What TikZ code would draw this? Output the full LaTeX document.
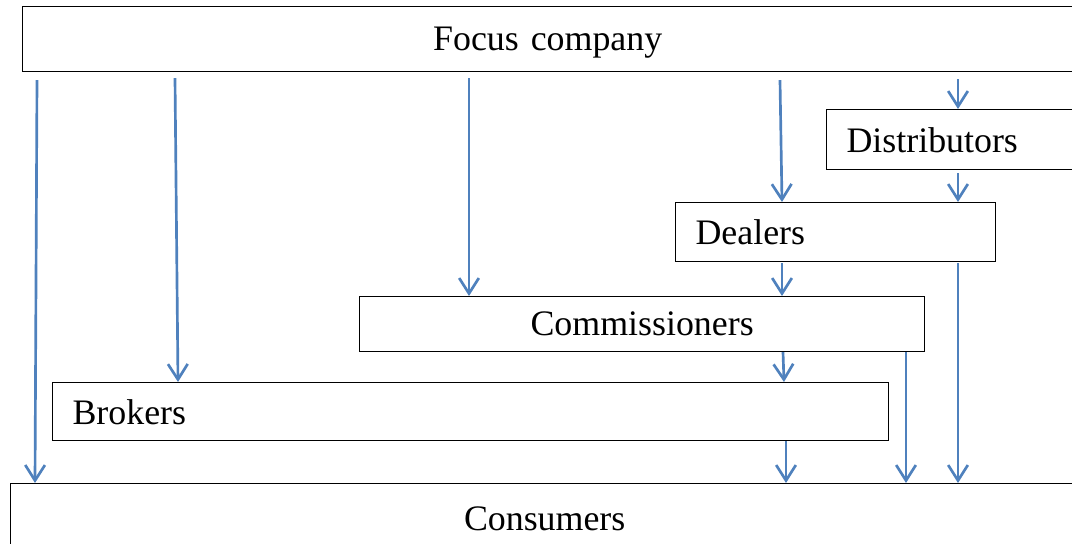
\documentclass[tikz,border=0pt]{standalone}
\usepackage{fontspec}
\setmainfont{Liberation Serif}
\usepackage{tikz}
\usetikzlibrary{arrows.meta,positioning,calc}
\definecolor{flowblue}{HTML}{4F81BD}

\begin{document}
\begin{tikzpicture}[x=0.025cm,y=-0.025cm,
		box/.style={draw,line width=0.8pt,anchor=north west,inner xsep=0.5cm,inner ysep=0pt,text depth=0pt,font=\fontsize{25.5}{28}\selectfont},
		flow/.style={flowblue,line width=1.9pt,-{Straight Barb[length=11pt,width=14pt]}}]
		\useasboundingbox (0,0) rectangle (1072,544);
		\node[box,text width=25.25cm,align=center,minimum height=1.625cm] (focus) at (22,6) {Focus company};
		\node[box,text width=5.6cm,align=left,minimum height=1.5cm] (distributors) at (826,109) {Distributors};
		\node[box,text width=7cm,align=left,minimum height=1.475cm] (dealers) at (675,202) {Dealers};
		\node[box,text width=13.125cm,align=center,minimum height=1.375cm] (commissioners) at (359,296) {Commissioners};
		\node[box,text width=19.9cm,align=left,minimum height=1.45cm] (brokers) at (52,382) {Brokers};
		\node[box,text width=25.7cm,align=center,minimum height=1.75cm] (consumers) at (10,483) {Consumers};
		% from the focus company
		\draw[flow] ($(focus.south west)+(15,8)$) -- ($(consumers.north west)+(25,0)$);
		\draw[flow] ($(focus.south west)+(153,6)$) -- ($(brokers.north west)+(126,0)$);
		\draw[flow] ($(focus.south west)+(447,6)$) -- ($(commissioners.north west)+(110,0)$);
		\draw[flow] ($(focus.south west)+(758,8)$) -- ($(dealers.north west)+(107,0)$);
		\draw[flow] ($(focus.south west)+(936,7)$) -- ($(distributors.north west)+(132,0)$);
		% between the channels
		\draw[flow] ($(distributors.south west)+(132,3)$) -- ($(dealers.north west)+(283,0)$);
		\draw[flow] ($(dealers.south west)+(283,1)$) -- ($(consumers.north west)+(948,0)$);
		\draw[flow] ($(dealers.south west)+(107,1)$) -- ($(commissioners.north west)+(423,0)$);
		\draw[flow] ($(commissioners.south west)+(424,0)$) -- ($(brokers.north west)+(732,0)$);
		\draw[flow] ($(commissioners.south west)+(547,0)$) -- ($(consumers.north west)+(896,0)$);
		\draw[flow] ($(brokers.south west)+(734,0)$) -- ($(consumers.north west)+(776,0)$);
\end{tikzpicture}
\end{document}
